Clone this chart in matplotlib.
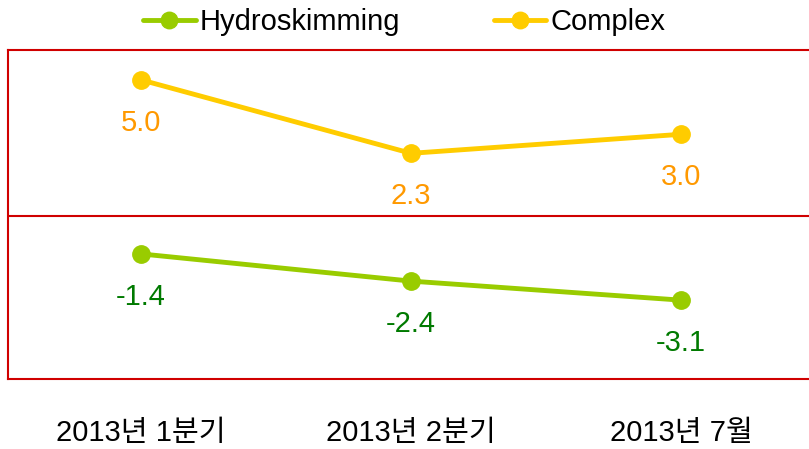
import matplotlib
matplotlib.use("Agg")
import matplotlib.pyplot as plt

categories = ["2013년 1분기", "2013년 2분기", "2013년 7월"]
hydro = [-1.4, -2.4, -3.1]
complex_ = [5.0, 2.3, 3.0]
series_names = ["Hydroskimming", "Complex"]

plt.rcParams['font.family'] = ['Liberation Sans', 'Noto Sans CJK KR', 'DejaVu Sans']

W, H = 809, 449
fig = plt.figure(figsize=(W / 100, H / 100), dpi=100)
ax = fig.add_axes([8 / W, (H - 379) / H, (809 - 8) / W, (379 - 50) / H])

green = "#99CC00"
yellow = "#FFCC00"
red = "#D00000"

x = list(range(len(categories)))
ax.plot(x, hydro, color=green, lw=3.5, marker='o', ms=12.5, label=series_names[0], solid_capstyle='round')
ax.plot(x, complex_, color=yellow, lw=3.5, marker='o', ms=12.5, label=series_names[1], solid_capstyle='round')

for xi, v in zip(x, complex_):
    ax.annotate(f"{v:.1f}", (xi, v), xytext=(0, -31), textcoords='offset points',
                ha='center', va='center', fontsize=21, color="#FF9900")
for xi, v in zip(x, hydro):
    ax.annotate(f"{v:.1f}", (xi, v), xytext=(0, -31), textcoords='offset points',
                ha='center', va='center', fontsize=21, color="#007A00")

ax.axhline(0, color=red, lw=1.5)
ax.set_xlim(-0.493, 2.474)
ax.set_ylim(-6.0, 6.1)
ax.set_yticks([])
ax.set_xticks(x)
ax.set_xticklabels(categories, fontsize=21)
ax.tick_params(axis='x', length=0, pad=29)
for s in ['left', 'top', 'bottom']:
    ax.spines[s].set_color(red)
    ax.spines[s].set_linewidth(1.5)
ax.spines['right'].set_visible(False)

fig.legend(loc='upper center', bbox_to_anchor=(0.5, 1.04), ncol=2, frameon=False,
           fontsize=21, handlelength=1.8, handletextpad=0.15, columnspacing=3.2,
           markerscale=0.95)

fig.savefig("out.png", dpi=100)
